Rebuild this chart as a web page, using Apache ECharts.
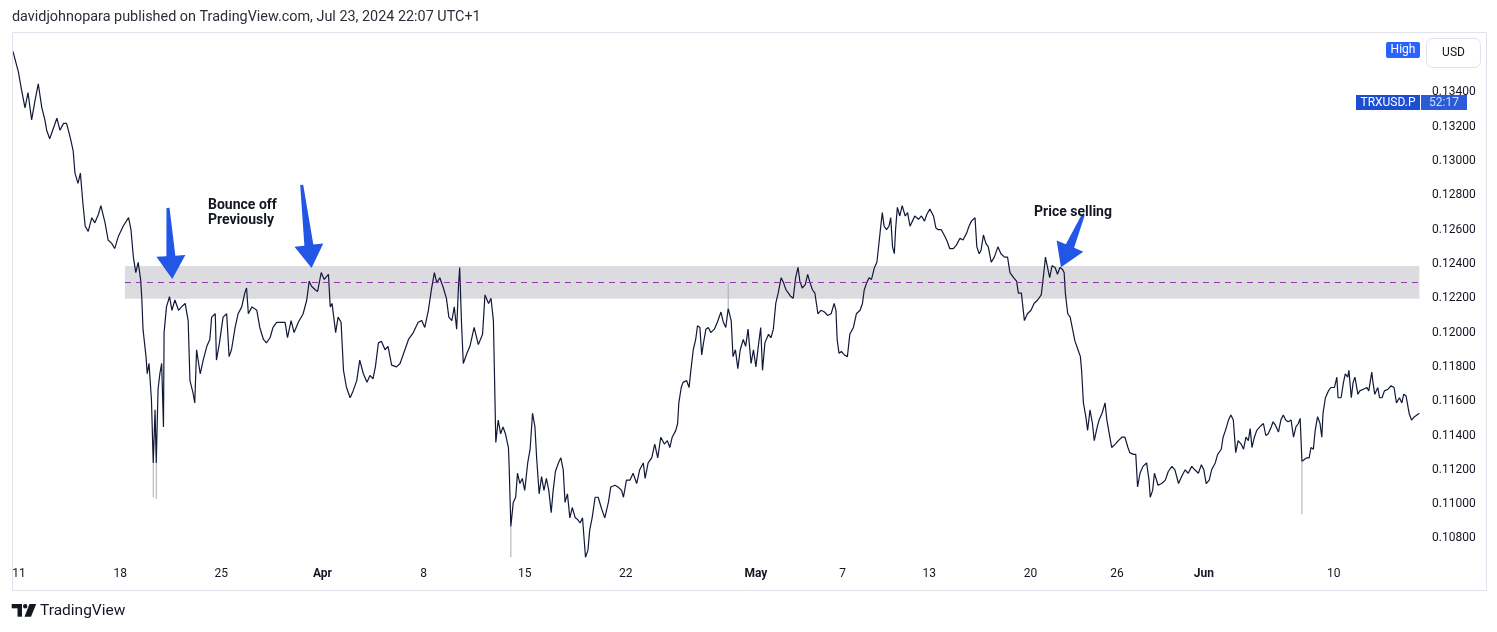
<!DOCTYPE html>
<html>
<head>
<meta charset="utf-8">
<title>TRXUSD.P</title>
<script src="https://cdn.jsdelivr.net/npm/echarts@6/dist/echarts.min.js"></script>
<style>
    html, body { margin: 0; padding: 0; background: #fff; }
    #chart { width: 1497px; height: 632px; }
</style>
</head>
<body>
<div id="chart"></div>
<script>
// time is kept as hours since 2024-03-11 00:00
const hours = [
    -10, -1, 4, 10, 15, 21, 27, 32, 38, 43,
    46, 51, 57, 63, 68, 74, 79, 85, 90, 93,
    98, 102, 106, 110, 115, 121, 126, 132, 136, 143,
    148, 154, 159, 165, 173, 182, 186, 190, 194, 198,
    202, 204, 206, 211, 213, 216, 220, 223, 226, 228,
    231, 234, 237, 240, 241, 245, 250, 254, 259, 265,
    270, 276, 281, 284, 289, 292, 295, 301, 306, 312,
    317, 320, 326, 328, 333, 339, 345, 349, 353, 359,
    364, 370, 375, 378, 381, 387, 395, 400, 406, 411,
    417, 422, 428, 436, 442, 446, 452, 457, 464, 472,
    478, 482, 486, 492, 496, 502, 507, 514, 517, 520,
    526, 530, 535, 539, 544, 550, 555, 561, 566, 572,
    578, 583, 588, 592, 597, 602, 608, 613, 619, 627,
    633, 641, 647, 655, 663, 669, 674, 680, 685, 690,
    694, 699, 705, 710, 714, 719, 723, 727, 730, 732,
    735, 738, 744, 749, 756, 763, 770, 774, 780, 784,
    788, 790, 792, 796, 800, 804, 808, 813, 814, 817,
    821, 825, 828, 832, 836, 840, 845, 849, 853, 857,
    860, 864, 868, 872, 876, 880, 884, 887, 891, 896,
    900, 904, 907, 911, 915, 919, 924, 928, 932, 936,
    939, 941, 945, 948, 952, 957, 962, 968, 973, 979,
    983, 990, 995, 1001, 1004, 1009, 1015, 1020, 1026, 1031,
    1037, 1040, 1045, 1051, 1056, 1061, 1066, 1072, 1077, 1081,
    1085, 1091, 1094, 1096, 1100, 1103, 1109, 1113, 1116, 1120,
    1124, 1127, 1131, 1134, 1137, 1141, 1145, 1149, 1155, 1160,
    1166, 1170, 1174, 1178, 1183, 1186, 1190, 1194, 1198, 1203,
    1207, 1211, 1216, 1220, 1224, 1228, 1232, 1235, 1239, 1245,
    1249, 1253, 1257, 1261, 1266, 1270, 1274, 1278, 1282, 1286,
    1290, 1294, 1297, 1301, 1306, 1310, 1314, 1318, 1322, 1327,
    1332, 1338, 1343, 1349, 1354, 1357, 1359, 1362, 1366, 1371,
    1376, 1380, 1386, 1391, 1397, 1401, 1404, 1408, 1412, 1416,
    1421, 1425, 1429, 1432, 1434, 1437, 1441, 1445, 1448, 1451,
    1454, 1456, 1459, 1463, 1467, 1472, 1476, 1480, 1484, 1488,
    1494, 1499, 1504, 1508, 1513, 1519, 1523, 1527, 1532, 1538,
    1542, 1546, 1552, 1557, 1563, 1568, 1574, 1578, 1582, 1588,
    1591, 1595, 1598, 1602, 1606, 1610, 1615, 1620, 1626, 1631,
    1637, 1642, 1646, 1652, 1657, 1660, 1665, 1670, 1675, 1681,
    1686, 1692, 1698, 1701, 1705, 1709, 1712, 1716, 1721, 1725,
    1729, 1733, 1736, 1738, 1742, 1746, 1750, 1754, 1759, 1763,
    1765, 1768, 1772, 1775, 1779, 1783, 1786, 1791, 1794, 1799,
    1804, 1807, 1811, 1815, 1821, 1826, 1832, 1837, 1842, 1845,
    1851, 1855, 1858, 1862, 1867, 1873, 1877, 1879, 1883, 1886,
    1892, 1898, 1904, 1909, 1915, 1920, 1926, 1931, 1937, 1942,
    1948, 1953, 1959, 1964, 1968, 1972, 1977, 1981, 1987, 1991,
    1997, 2000, 2004, 2009, 2013, 2017, 2021, 2025, 2030, 2034,
    2038, 2042, 2045, 2048, 2052, 2056, 2061, 2067, 2071, 2075,
    2080, 2083, 2087, 2092, 2096, 2100, 2104, 2108, 2113, 2117,
    2121, 2125, 2128, 2131, 2135, 2139, 2143, 2146, 2150, 2153,
    2157, 2161, 2164, 2166, 2170, 2175, 2179, 2185, 2189, 2191,
    2196, 2200, 2203, 2207, 2209, 2213, 2216, 2219, 2224, 2227,
    2233, 2239, 2242, 2247, 2249, 2252, 2257, 2260, 2264, 2268,
    2274, 2279, 2284, 2288, 2293, 2297, 2300, 2304, 2309, 2313,
    2318, 2322, 2326
];

const price = [
    0.1364, 0.1352, 0.1342, 0.1331, 0.1340, 0.1324, 0.1336, 0.1345, 0.1331, 0.1324,
    0.1318, 0.1313, 0.1319, 0.1325, 0.1318, 0.1322, 0.1322, 0.1314, 0.1306, 0.1293,
    0.1287, 0.1293, 0.1276, 0.1262, 0.1259, 0.1267, 0.1264, 0.1269, 0.1274, 0.1264,
    0.1254, 0.1252, 0.1249, 0.1256, 0.1262, 0.1267, 0.1260, 0.1244, 0.1235, 0.1241,
    0.1231, 0.1220, 0.1202, 0.1186, 0.1176, 0.1182, 0.1161, 0.1124, 0.1155, 0.1124,
    0.1167, 0.1176, 0.1182, 0.1145, 0.1200, 0.1215, 0.1221, 0.1213, 0.1219, 0.1213,
    0.1215, 0.1217, 0.1207, 0.1172, 0.1165, 0.1159, 0.1190, 0.1176, 0.1184, 0.1192,
    0.1196, 0.1209, 0.1211, 0.1184, 0.1194, 0.1209, 0.1211, 0.1186, 0.1190, 0.1203,
    0.1211, 0.1215, 0.1223, 0.1226, 0.1211, 0.1215, 0.1213, 0.1203, 0.1196, 0.1194,
    0.1197, 0.1203, 0.1206, 0.1206, 0.1206, 0.1197, 0.1207, 0.1200, 0.1206, 0.1211,
    0.1219, 0.1230, 0.1227, 0.1225, 0.1224, 0.1235, 0.1231, 0.1234, 0.1215, 0.1217,
    0.1200, 0.1209, 0.1206, 0.1178, 0.1168, 0.1162, 0.1166, 0.1172, 0.1184, 0.1176,
    0.1171, 0.1175, 0.1173, 0.1180, 0.1194, 0.1195, 0.1190, 0.1192, 0.1181, 0.1180,
    0.1182, 0.1190, 0.1196, 0.1200, 0.1206, 0.1207, 0.1203, 0.1213, 0.1225, 0.1235,
    0.1229, 0.1232, 0.1226, 0.1220, 0.1209, 0.1207, 0.1215, 0.1202, 0.1227, 0.1238,
    0.1206, 0.1182, 0.1188, 0.1192, 0.1203, 0.1193, 0.1199, 0.1222, 0.1217, 0.1220,
    0.1207, 0.1172, 0.1136, 0.1149, 0.1141, 0.1145, 0.1141, 0.1133, 0.1124, 0.1087,
    0.1101, 0.1104, 0.1118, 0.1112, 0.1115, 0.1108, 0.1124, 0.1132, 0.1153, 0.1145,
    0.1126, 0.1106, 0.1116, 0.1108, 0.1115, 0.1108, 0.1095, 0.1107, 0.1119, 0.1124,
    0.1127, 0.1120, 0.1101, 0.1106, 0.1092, 0.1098, 0.1092, 0.1091, 0.1089, 0.1092,
    0.1091, 0.1069, 0.1073, 0.1085, 0.1092, 0.1104, 0.1104, 0.1097, 0.1092, 0.1101,
    0.1110, 0.1111, 0.1110, 0.1108, 0.1104, 0.1114, 0.1114, 0.1118, 0.1112, 0.1120,
    0.1124, 0.1115, 0.1124, 0.1127, 0.1135, 0.1127, 0.1139, 0.1135, 0.1137, 0.1133,
    0.1139, 0.1143, 0.1147, 0.1159, 0.1168, 0.1171, 0.1172, 0.1168, 0.1178, 0.1190,
    0.1196, 0.1204, 0.1203, 0.1187, 0.1194, 0.1202, 0.1203, 0.1200, 0.1202, 0.1206,
    0.1212, 0.1206, 0.1203, 0.1214, 0.1207, 0.1186, 0.1190, 0.1179, 0.1190, 0.1196,
    0.1192, 0.1202, 0.1182, 0.1190, 0.1180, 0.1192, 0.1203, 0.1178, 0.1194, 0.1199,
    0.1197, 0.1202, 0.1217, 0.1223, 0.1232, 0.1229, 0.1225, 0.1223, 0.1221, 0.1220,
    0.1232, 0.1238, 0.1230, 0.1226, 0.1228, 0.1234, 0.1229, 0.1225, 0.1223, 0.1211,
    0.1213, 0.1212, 0.1210, 0.1211, 0.1217, 0.1213, 0.1196, 0.1188, 0.1189, 0.1187,
    0.1186, 0.1199, 0.1203, 0.1211, 0.1213, 0.1217, 0.1225, 0.1229, 0.1232, 0.1231,
    0.1238, 0.1241, 0.1254, 0.1264, 0.1270, 0.1262, 0.1260, 0.1262, 0.1267, 0.1250,
    0.1246, 0.1260, 0.1273, 0.1268, 0.1274, 0.1268, 0.1270, 0.1262, 0.1265, 0.1268,
    0.1266, 0.1268, 0.1265, 0.1269, 0.1272, 0.1268, 0.1261, 0.1260, 0.1260, 0.1256,
    0.1253, 0.1249, 0.1249, 0.1251, 0.1255, 0.1254, 0.1258, 0.1262, 0.1265, 0.1267,
    0.1250, 0.1246, 0.1248, 0.1257, 0.1252, 0.1250, 0.1241, 0.1244, 0.1250, 0.1246,
    0.1244, 0.1244, 0.1235, 0.1232, 0.1230, 0.1223, 0.1223, 0.1207, 0.1211, 0.1213,
    0.1217, 0.1219, 0.1222, 0.1231, 0.1244, 0.1237, 0.1232, 0.1239, 0.1238, 0.1234,
    0.1238, 0.1237, 0.1235, 0.1223, 0.1211, 0.1209, 0.1202, 0.1195, 0.1190, 0.1186,
    0.1178, 0.1159, 0.1151, 0.1143, 0.1155, 0.1147, 0.1137, 0.1145, 0.1149, 0.1153,
    0.1159, 0.1149, 0.1141, 0.1133, 0.1135, 0.1137, 0.1139, 0.1139, 0.1133, 0.1130,
    0.1129, 0.1129, 0.1110, 0.1118, 0.1122, 0.1124, 0.1114, 0.1104, 0.1108, 0.1118,
    0.1111, 0.1112, 0.1114, 0.1119, 0.1122, 0.1120, 0.1112, 0.1116, 0.1120, 0.1118,
    0.1122, 0.1120, 0.1118, 0.1123, 0.1120, 0.1112, 0.1114, 0.1120, 0.1124, 0.1129,
    0.1132, 0.1139, 0.1143, 0.1149, 0.1152, 0.1149, 0.1130, 0.1137, 0.1135, 0.1132,
    0.1139, 0.1137, 0.1144, 0.1133, 0.1139, 0.1143, 0.1145, 0.1147, 0.1140, 0.1141,
    0.1145, 0.1148, 0.1146, 0.1142, 0.1149, 0.1152, 0.1149, 0.1148, 0.1149, 0.1139,
    0.1145, 0.1147, 0.1150, 0.1125, 0.1126, 0.1127, 0.1127, 0.1133, 0.1132, 0.1143,
    0.1151, 0.1147, 0.1139, 0.1153, 0.1162, 0.1166, 0.1168, 0.1168, 0.1174, 0.1162,
    0.1162, 0.1171, 0.1176, 0.1174, 0.1178, 0.1162, 0.1171, 0.1174, 0.1164, 0.1166,
    0.1167, 0.1168, 0.1166, 0.1177, 0.1171, 0.1164, 0.1168, 0.1162, 0.1162, 0.1166,
    0.1167, 0.1169, 0.1168, 0.1159, 0.1162, 0.1159, 0.1164, 0.1163, 0.1153, 0.1149,
    0.1151, 0.1152, 0.1153
];

// long wicks that stick out of the line
const wickHours = [223, 228, 817, 1178, 2131];
const wickLow = [0.1104, 0.1103, 0.1069, 0.1214, 0.1094];
const wickHigh = [0.1124, 0.1124, 0.1087, 0.1229, 0.1125];

// grey support zone and its mid line
const zoneFrom = 176;
const zoneTo = 2326;
const zoneLow = 0.12198;
const zoneHigh = 0.12388;
const zoneMid = 0.12293;

const priceTicks = [0.108, 0.110, 0.112, 0.114, 0.116, 0.118, 0.120, 0.122, 0.124, 0.126, 0.128, 0.130, 0.132, 0.134];
const tickHours = [0, 168, 336, 504, 672, 840, 1008, 1224, 1368, 1512, 1680, 1824, 1968, 2184];
const tickLabels = ['11', '18', '25', 'Apr', '8', '15', '22', 'May', '7', '13', '20', '26', 'Jun', '10'];

const FONT = 'Roboto, "Noto Sans", sans-serif';
const chart = echarts.init(document.getElementById('chart'));

const option = {
    animation: false,
    backgroundColor: '#ffffff',
    textStyle: {fontFamily: FONT},
    grid: {left: 12, right: 72, top: 33, bottom: 69},
    xAxis: {
        type: 'value',
        min: -11.6,
        max: 2335.4,
        axisLine: {show: false},
        axisTick: {show: false},
        splitLine: {show: false},
        axisLabel: {
            customValues: tickHours,
            margin: 5,
            fontSize: 12,
            color: '#131722',
            formatter: function (v) {
                const s = tickLabels[tickHours.indexOf(Math.round(v))] || '';
                return isNaN(+s) ? '{m|' + s + '}' : s;
            },
            rich: {m: {fontWeight: 'bold', fontSize: 12, color: '#131722', fontFamily: FONT}}
        }
    },
    yAxis: {
        type: 'value',
        position: 'right',
        min: 0.106566,
        max: 0.137469,
        axisLine: {show: false},
        axisTick: {show: false},
        splitLine: {show: false},
        axisLabel: {
            customValues: priceTicks,
            margin: 7,
            fontSize: 12,
            color: '#131722',
            formatter: v => v.toFixed(5)
        }
    },
    series: [
        {
            name: 'zone',
            type: 'line',
            data: [],
            z: 1,
            silent: true,
            markArea: {
                silent: true,
                itemStyle: {color: '#dcdce0'},
                data: [[{coord: [zoneFrom, zoneHigh]}, {coord: [zoneTo, zoneLow]}]]
            },
            markLine: {
                silent: true,
                symbol: 'none',
                label: {show: false},
                lineStyle: {color: '#8e3aa8', width: 1, type: [6, 5]},
                data: [[{coord: [zoneFrom, zoneMid]}, {coord: [zoneTo, zoneMid]}]]
            }
        },
        {
            name: 'wicks',
            type: 'custom',
            z: 2,
            silent: true,
            data: wickHours.map((h, i) => [h, wickLow[i], wickHigh[i]]),
            encode: {x: 0, y: [1, 2]},
            renderItem: function (params, api) {
                const a = api.coord([api.value(0), api.value(1)]);
                const b = api.coord([api.value(0), api.value(2)]);
                return {
                    type: 'line',
                    shape: {x1: a[0], y1: a[1], x2: b[0], y2: b[1]},
                    style: {stroke: '#a9acb5', lineWidth: 1}
                };
            }
        },
        {
            name: 'TRXUSD.P',
            type: 'line',
            z: 3,
            data: hours.map((h, i) => [h, price[i]]),
            showSymbol: false,
            symbol: 'none',
            sampling: null,
            lineStyle: {color: '#111838', width: 1.2}
        }
    ]
};
chart.setOption(option);

// blue arrows and notes, anchored in data space
const arrows = [
    {tail: [247.5, 0.12727], tip: [254.6, 0.12313]},
    {tail: [469.6, 0.12861], tip: [486.0, 0.12377]},
    {tail: [1767.8, 0.12686], tip: [1730.7, 0.12381]}
];
const notes = [
    {text: 'Bounce off\nPreviously', at: [314, 0.12785]},
    {text: 'Price selling', at: [1686, 0.12744]}
];

function arrowPoints(tail, tip) {
    const dx = tip[0] - tail[0], dy = tip[1] - tail[1];
    const len = Math.hypot(dx, dy);
    const ux = dx / len, uy = dy / len;
    const nx = -uy, ny = ux;
    const head = 23, half = 14.5, tailW = 1.5, neckW = 4.5;
    const bx = tip[0] - ux * head, by = tip[1] - uy * head;
    const p = (x, y, w) => [x + nx * w, y + ny * w];
    return [p(tail[0], tail[1], tailW), p(bx, by, neckW), p(bx, by, half), tip,
        p(bx, by, -half), p(bx, by, -neckW), p(tail[0], tail[1], -tailW)];
}

const toPx = v => chart.convertToPixel({gridIndex: 0}, v);
const graphics = [];

arrows.forEach(a => {
    graphics.push({
        type: 'polygon', z: 50, silent: true,
        shape: {points: arrowPoints(toPx(a.tail), toPx(a.tip))},
        style: {fill: '#2256e6'}
    });
});
notes.forEach(n => {
    const p = toPx(n.at);
    graphics.push({
        type: 'text', z: 50, silent: true,
        style: {text: n.text, x: p[0], y: p[1], font: 'bold 14px ' + FONT, fill: '#131722',
            lineHeight: 15, align: 'left', verticalAlign: 'top'}
    });
});

// page chrome: header, frame, price badges, footer logo
graphics.push(
    {type: 'text', z: 50, silent: true,
        style: {text: 'davidjohnopara published on TradingView.com, Jul 23, 2024 22:07 UTC+1',
            x: 12, y: 17, font: '14.4px ' + FONT, fill: '#2a2e39', verticalAlign: 'middle'}},
    {type: 'rect', z: 40, silent: true, shape: {x: 12.5, y: 32.5, width: 1474, height: 558},
        style: {fill: 'none', stroke: '#e0e3eb', lineWidth: 1}},
    {type: 'rect', z: 60, silent: true, shape: {x: 1386, y: 42, width: 34, height: 16, r: 2},
        style: {fill: '#2962ff'}},
    {type: 'text', z: 61, silent: true,
        style: {text: 'High', x: 1403, y: 50, font: '12px ' + FONT, fill: '#ffffff', align: 'center', verticalAlign: 'middle'}},
    {type: 'rect', z: 60, silent: true, shape: {x: 1426.5, y: 38.5, width: 54, height: 29, r: 6},
        style: {fill: '#ffffff', stroke: '#e0e3eb', lineWidth: 1}},
    {type: 'text', z: 61, silent: true,
        style: {text: 'USD', x: 1453.5, y: 53, font: '12px ' + FONT, fill: '#131722', align: 'center', verticalAlign: 'middle'}},
    {type: 'rect', z: 60, silent: true, shape: {x: 1356, y: 95, width: 64, height: 15},
        style: {fill: '#1d4ed1'}},
    {type: 'text', z: 61, silent: true,
        style: {text: 'TRXUSD.P', x: 1388, y: 102.5, font: '12px ' + FONT, fill: '#ffffff', align: 'center', verticalAlign: 'middle'}},
    {type: 'rect', z: 60, silent: true, shape: {x: 1421, y: 95, width: 46, height: 15},
        style: {fill: '#2b5bd6'}},
    {type: 'text', z: 61, silent: true,
        style: {text: '52:17', x: 1444, y: 102.5, font: '12px ' + FONT, fill: '#d3ddfb', align: 'center', verticalAlign: 'middle'}},
    // TradingView logo
    {type: 'rect', z: 50, silent: true, shape: {x: 11.7, y: 604, width: 10.3, height: 4.3}, style: {fill: '#131722'}},
    {type: 'rect', z: 50, silent: true, shape: {x: 17.5, y: 604, width: 4.5, height: 12.7}, style: {fill: '#131722'}},
    {type: 'circle', z: 50, silent: true, shape: {cx: 25.2, cy: 606.2, r: 2.2}, style: {fill: '#131722'}},
    {type: 'polygon', z: 50, silent: true, shape: {points: [[29.5, 604], [36.2, 604], [31, 616.7], [24.5, 616.7]]},
        style: {fill: '#131722'}},
    {type: 'text', z: 50, silent: true,
        style: {text: 'TradingView', x: 40, y: 611, font: '15.5px ' + FONT, fill: '#131722', verticalAlign: 'middle'}}
);

chart.setOption({graphic: {elements: graphics}});
</script>
</body>
</html>
